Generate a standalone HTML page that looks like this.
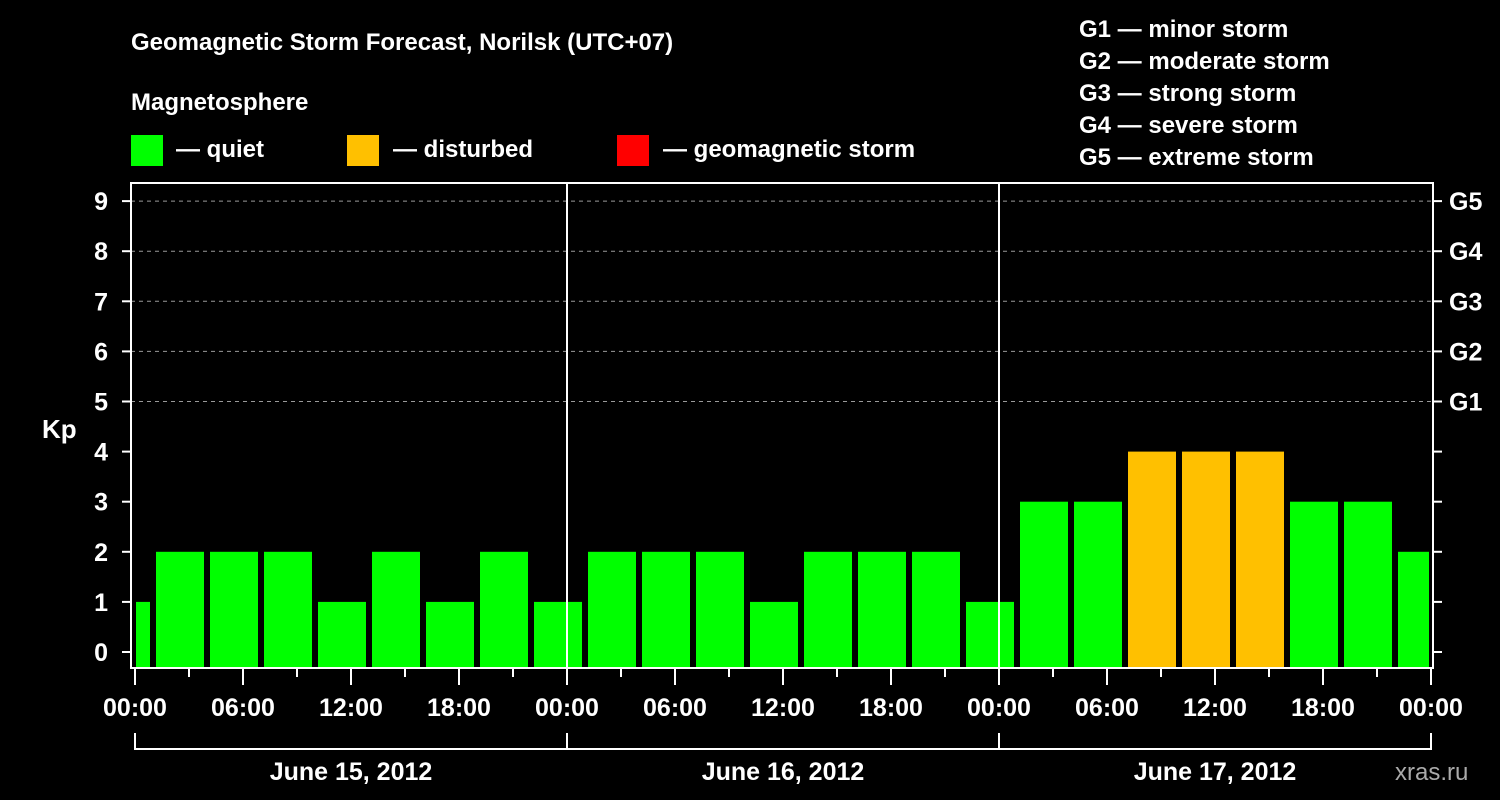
<!DOCTYPE html>
<html><head><meta charset="utf-8"><style>
html,body{margin:0;padding:0;background:#000;width:1500px;height:800px;overflow:hidden}
text{font-family:"Liberation Sans",sans-serif;font-weight:bold;fill:#fff}
</style></head><body>
<svg id="chart" width="1500" height="800" xmlns="http://www.w3.org/2000/svg">
<text x="131" y="50" font-size="24">Geomagnetic Storm Forecast, Norilsk (UTC+07)</text>
<text x="131" y="110" font-size="24">Magnetosphere</text>
<rect x="131" y="135" width="32" height="31" fill="#00ff00"/>
<text x="176" y="157" font-size="24">— quiet</text>
<rect x="347" y="135" width="32" height="31" fill="#ffc000"/>
<text x="393" y="157" font-size="24">— disturbed</text>
<rect x="617" y="135" width="32" height="31" fill="#ff0000"/>
<text x="663" y="157" font-size="24">— geomagnetic storm</text>
<g font-size="24">
<text x="1079" y="37">G1 — minor storm</text>
<text x="1079" y="69">G2 — moderate storm</text>
<text x="1079" y="101">G3 — strong storm</text>
<text x="1079" y="133">G4 — severe storm</text>
<text x="1079" y="165">G5 — extreme storm</text>
</g>
<g id="bars"></g>
<g id="axes"></g>
<text x="42" y="438" font-size="26">Kp</text>
<text x="1395" y="780" font-size="24" fill="#999" style="fill:#aaa;font-weight:normal">xras.ru</text>
</svg>
<script>
const kpValues=[1,2,2,2,1,2,1,2,1, 2,2,2,1,2,2,2,1, 3,3,4,4,4,3,3,2];
const yTicks=[0,1,2,3,4,5,6,7,8,9];
const gLabels=["G1","G2","G3","G4","G5"];
const xTickLabels=["00:00","06:00","12:00","18:00","00:00","06:00","12:00","18:00","00:00","06:00","12:00","18:00","00:00"];
const dayLabels=["June 15, 2012","June 16, 2012","June 17, 2012"];
const NS="http://www.w3.org/2000/svg";
const X0=135,PXH=18,L=131,R=1433,T=183,B=668;
const x=h=>X0+h*PXH;
const y=v=>652-v*50.1;
function mk(tag,attrs,parent){const e=document.createElementNS(NS,tag);for(const k in attrs)e.setAttribute(k,attrs[k]);parent.appendChild(e);return e;}
const bars=document.getElementById('bars'),axes=document.getElementById('axes');
kpValues.forEach((v,i)=>{
 let s=-2+3*i,e=s+3;
 let x1=Math.max(x(s)+3,X0+1),x2=Math.min(x(e)-3,x(72)-2);
 const c=v>=5?'#ff0000':(v>=4?'#ffc000':'#00ff00');
 const r=mk('rect',{x:x1,y:y(v),width:x2-x1,height:B-y(v),fill:c},bars);
 
 
});
yTicks.forEach(v=>{
 if(v>=5){const g=mk('line',{x1:L,x2:R,y1:y(v),y2:y(v),stroke:'#999','stroke-dasharray':'4,4'},axes);
 
 }
 mk('line',{x1:122,x2:L,y1:y(v),y2:y(v),stroke:'#fff','stroke-width':2},axes);
 mk('line',{x1:R,x2:1442,y1:y(v),y2:y(v),stroke:'#fff','stroke-width':2},axes);
 const t=mk('text',{x:108,y:y(v)+9,'font-size':25,'text-anchor':'end'},axes);t.textContent=v;
 
 
});
gLabels.forEach((g,i)=>{
 const t=mk('text',{x:1449,y:y(i+5)+9,'font-size':25},axes);t.textContent=g;
 
 
});
mk('rect',{x:L,y:T,width:R-L,height:B-T,fill:'none',stroke:'#fff','stroke-width':2},axes);
[24,48].forEach(h=>mk('line',{x1:x(h),x2:x(h),y1:T,y2:B,stroke:'#fff','stroke-width':2},axes));
for(let h=0;h<=72;h+=3){
 const major=h%6===0;
 mk('line',{x1:x(h),x2:x(h),y1:B,y2:major?685:677,stroke:'#fff','stroke-width':2},axes);
}
xTickLabels.forEach((l,i)=>{
 const t=mk('text',{x:x(i*6),y:716,'font-size':25,'text-anchor':'middle'},axes);t.textContent=l;
 
 
});
mk('line',{x1:x(0),x2:x(72),y1:749,y2:749,stroke:'#fff','stroke-width':2},axes);
[0,24,48,72].forEach(h=>mk('line',{x1:x(h),x2:x(h),y1:733,y2:750,stroke:'#fff','stroke-width':2},axes));
dayLabels.forEach((d,i)=>{
 const t=mk('text',{x:x(i*24+12),y:780,'font-size':25,'text-anchor':'middle'},axes);t.textContent=d;
 
 
});
</script>
</body></html>
